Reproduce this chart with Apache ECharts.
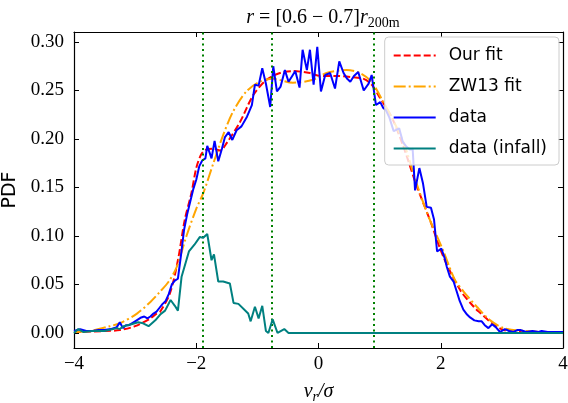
<!DOCTYPE html>
<html><head><meta charset="utf-8">
<script src="https://cdn.jsdelivr.net/npm/echarts@6/dist/echarts.min.js"></script>
<style>html,body{margin:0;padding:0;background:#fff}#c{width:568px;height:403px}</style>
</head><body><div id="c"></div>
<script>
const dataX = [-4.0,-3.9,-3.8,-3.7,-3.6,-3.5,-3.4,-3.3,-3.25,-3.2,-3.15,-3.1,-3.0,-2.95,-2.9,-2.85,-2.8,-2.75,-2.7,-2.65,-2.6,-2.55,-2.5,-2.45,-2.4,-2.35,-2.3,-2.25,-2.2,-2.15,-2.1,-2.05,-2.0,-1.95,-1.9,-1.85,-1.82,-1.75,-1.7,-1.64,-1.58,-1.53,-1.47,-1.41,-1.34,-1.26,-1.17,-1.09,-1.04,-0.98,-0.92,-0.86,-0.79,-0.74,-0.68,-0.62,-0.55,-0.49,-0.43,-0.38,-0.31,-0.26,-0.19,-0.14,-0.08,-0.02,0.04,0.11,0.19,0.27,0.34,0.41,0.47,0.52,0.58,0.65,0.74,0.82,0.87,0.94,1.01,1.06,1.1,1.16,1.23,1.32,1.38,1.44,1.5,1.54,1.58,1.65,1.71,1.77,1.84,1.89,1.94,2.01,2.06,2.1,2.15,2.21,2.26,2.31,2.37,2.43,2.48,2.55,2.62,2.67,2.72,2.78,2.84,2.9,2.97,3.05,3.12,3.19,3.25,3.3,3.4,3.5,3.6,3.65,3.75,3.85,4.0];
const dataY = [0.002,0.004,0.002,0.002,0.003,0.003,0.004,0.006,0.011,0.005,0.008,0.008,0.012,0.014,0.016,0.017,0.015,0.017,0.020,0.022,0.026,0.030,0.033,0.040,0.050,0.054,0.056,0.080,0.106,0.122,0.135,0.148,0.158,0.172,0.178,0.180,0.193,0.180,0.198,0.177,0.190,0.202,0.207,0.199,0.209,0.213,0.223,0.235,0.256,0.255,0.273,0.257,0.233,0.275,0.249,0.254,0.271,0.259,0.265,0.270,0.253,0.292,0.271,0.292,0.256,0.295,0.249,0.266,0.268,0.252,0.280,0.268,0.262,0.259,0.265,0.269,0.250,0.257,0.266,0.235,0.238,0.232,0.230,0.222,0.208,0.211,0.197,0.192,0.189,0.190,0.147,0.170,0.154,0.130,0.129,0.117,0.084,0.087,0.078,0.068,0.058,0.053,0.043,0.033,0.024,0.019,0.016,0.013,0.012,0.012,0.008,0.005,0.009,0.006,0.001,0.004,0.002,0.001,0.003,0.003,0.001,0.002,0.001,0.002,0.001,0.001,0.001];

const infallX = [-4.0,-3.93,-3.85,-3.7,-3.5,-3.36,-3.3,-3.25,-3.19,-3.06,-2.95,-2.87,-2.78,-2.67,-2.59,-2.51,-2.42,-2.35,-2.3,-2.24,-2.12,-2.03,-1.94,-1.89,-1.82,-1.75,-1.71,-1.64,-1.56,-1.45,-1.39,-1.31,-1.15,-1.11,-1.04,-0.98,-0.92,-0.86,-0.82,-0.75,-0.67,-0.64,-0.56,-0.49,4.0];
const infallY = [0.0,0.004,0.001,0.002,0.002,0.004,0.005,0.004,0.007,0.009,0.011,0.010,0.007,0.013,0.019,0.023,0.034,0.028,0.023,0.058,0.084,0.091,0.099,0.098,0.102,0.075,0.081,0.053,0.053,0.051,0.031,0.030,0.020,0.012,0.027,0.015,0.028,0.002,0.0,0.014,0.0,0.0,0.004,0.0,0.0];

const ourFitX = [-4.0,-3.5,-3.25,-3.0,-2.75,-2.65,-2.59,-2.43,-2.3,-2.19,-2.08,-2.0,-1.92,-1.84,-1.72,-1.61,-1.5,-1.28,-1.07,-0.85,-0.63,-0.42,-0.14,0.02,0.3,0.52,0.74,0.87,0.98,1.2,1.39,1.61,1.82,2.04,2.32,2.54,2.64,2.84,3.03,3.4,4.0];
const ourFitY = [0.001,0.002,0.003,0.007,0.015,0.020,0.022,0.041,0.075,0.116,0.144,0.170,0.184,0.189,0.190,0.188,0.196,0.218,0.245,0.261,0.268,0.270,0.268,0.265,0.265,0.264,0.262,0.256,0.245,0.222,0.192,0.151,0.117,0.079,0.044,0.027,0.021,0.010,0.003,0.001,0.0005];

const zwFitX = [-4.0,-3.74,-3.41,-3.25,-2.97,-2.75,-2.6,-2.45,-2.32,-2.16,-2.0,-1.88,-1.72,-1.56,-1.4,-1.18,-0.96,-0.74,-0.42,-0.09,0.13,0.46,0.68,0.87,1.01,1.2,1.4,1.6,1.8,2.04,2.23,2.37,2.59,2.81,3.03,3.4,4.0];
const zwFitY = [0.001,0.002,0.007,0.010,0.020,0.032,0.042,0.053,0.068,0.100,0.128,0.145,0.175,0.204,0.228,0.249,0.259,0.262,0.258,0.261,0.268,0.271,0.268,0.259,0.244,0.222,0.195,0.155,0.120,0.085,0.055,0.043,0.027,0.013,0.005,0.002,0.0005];

const vLines = [-1.9, -0.77, 0.91];
const xTicks = [-4, -2, 0, 2, 4];
const yTicks = [0.00, 0.05, 0.10, 0.15, 0.20, 0.25, 0.30];
const seriesNames = ['Our fit', 'ZW13 fit', 'data', 'data (infall)'];

const zip = (xs, ys) => xs.map((x, i) => [x, ys[i]]);
const serif = 'Liberation Serif';
const chart = echarts.init(document.getElementById('c'), null, {renderer: 'canvas'});

const yMin = -0.0155, yMax = 0.3103;
const axisCommon = {
  axisLine: {show: true, onZero: false, lineStyle: {color: '#000', width: 1.2}},
  splitLine: {show: false},
};

chart.setOption({
  animation: false,
  backgroundColor: '#fff',
  title: {
    text: '{i|r} = [0.6 − 0.7]{i|r}{s|200m}',
    left: 318, top: 1, textAlign: 'center',
    textStyle: {
      fontFamily: serif, fontSize: 20, fontWeight: 'normal', color: '#000',
      rich: {
        i: {fontFamily: serif, fontStyle: 'italic', fontSize: 20, color: '#000'},
        s: {fontFamily: serif, fontSize: 14, color: '#000', padding: [10, 0, 0, 0]}
      }
    }
  },
  legend: {
    data: seriesNames,
    orient: 'vertical',
    right: 9, top: 37,
    itemWidth: 42, itemHeight: 14, itemGap: 14,
    padding: [10, 12, 8, 8],
    backgroundColor: 'rgba(255,255,255,0.8)',
    borderColor: '#cccccc', borderWidth: 1, borderRadius: 4,
    itemStyle: {opacity: 0},
    textStyle: {fontFamily: 'DejaVu Sans', fontSize: 17, color: '#000', padding: [0, 0, 0, 8]},
    z: 10
  },
  grid: {left: 74, right: 5, top: 32, bottom: 55, containLabel: false, outerBoundsMode: 'none'},
  xAxis: [
    Object.assign({}, axisCommon, {
      type: 'value', min: -4, max: 4, interval: 2, position: 'bottom',
      axisTick: {show: true, inside: true, length: 5, lineStyle: {color: '#000', width: 1}},
      axisLabel: {show: true, fontFamily: serif, fontSize: 19, color: '#000', margin: 7,
        formatter: v => (v < 0 ? '−' + Math.abs(v) : String(v))},
      name: '{i|v}{s|r}{i|/σ}', nameLocation: 'middle', nameGap: 32,
      nameTextStyle: {fontFamily: serif, fontSize: 20, color: '#000',
        rich: {i: {fontFamily: serif, fontStyle: 'italic', fontSize: 20, color: '#000'},
               s: {fontFamily: serif, fontStyle: 'italic', fontSize: 14, color: '#000', padding: [10, 0, 0, 0]}}}
    }),
    Object.assign({}, axisCommon, {
      type: 'value', min: -4, max: 4, interval: 2, position: 'top',
      axisTick: {show: true, inside: true, length: 5, lineStyle: {color: '#000', width: 1}},
      axisLabel: {show: false}
    })
  ],
  yAxis: [
    Object.assign({}, axisCommon, {
      type: 'value', min: yMin, max: yMax, position: 'left',
      axisTick: {show: true, inside: true, length: 5, customValues: yTicks, lineStyle: {color: '#000', width: 1}},
      axisLabel: {show: true, customValues: yTicks, fontFamily: serif, fontSize: 19, color: '#000', margin: 10,
        formatter: v => v.toFixed(2)},
      name: 'PDF', nameLocation: 'middle', nameGap: 52, nameRotate: 90,
      nameTextStyle: {fontFamily: 'DejaVu Sans', fontSize: 19, color: '#000'}
    }),
    Object.assign({}, axisCommon, {
      type: 'value', min: yMin, max: yMax, position: 'right',
      axisTick: {show: true, inside: true, length: 5, customValues: yTicks, lineStyle: {color: '#000', width: 1}},
      axisLabel: {show: false, customValues: yTicks}
    })
  ],
  series: [
    {name: seriesNames[0], type: 'line', data: zip(ourFitX, ourFitY), showSymbol: false, symbol: 'none', smooth: 0.3,
     lineStyle: {color: '#ff0000', width: 2, type: [7, 3]}, itemStyle: {color: '#ff0000'}, z: 2},
    {name: seriesNames[1], type: 'line', data: zip(zwFitX, zwFitY), showSymbol: false, symbol: 'none', smooth: 0.3,
     lineStyle: {color: '#ffa500', width: 2, type: [12, 3, 2, 3]}, itemStyle: {color: '#ffa500'}, z: 3},
    {name: seriesNames[2], type: 'line', data: zip(dataX, dataY), showSymbol: false, symbol: 'none',
     lineStyle: {color: '#0000ff', width: 2}, itemStyle: {color: '#0000ff'}, z: 4},
    {name: seriesNames[3], type: 'line', data: zip(infallX, infallY), showSymbol: false, symbol: 'none',
     lineStyle: {color: '#008080', width: 2}, itemStyle: {color: '#008080'}, z: 5,
     markLine: {silent: true, symbol: ['none', 'none'], label: {show: false},
       lineStyle: {color: '#008000', width: 2, type: [2, 3.5]},
       data: vLines.map(v => ({xAxis: v}))}}
  ]
});
</script></body></html>
